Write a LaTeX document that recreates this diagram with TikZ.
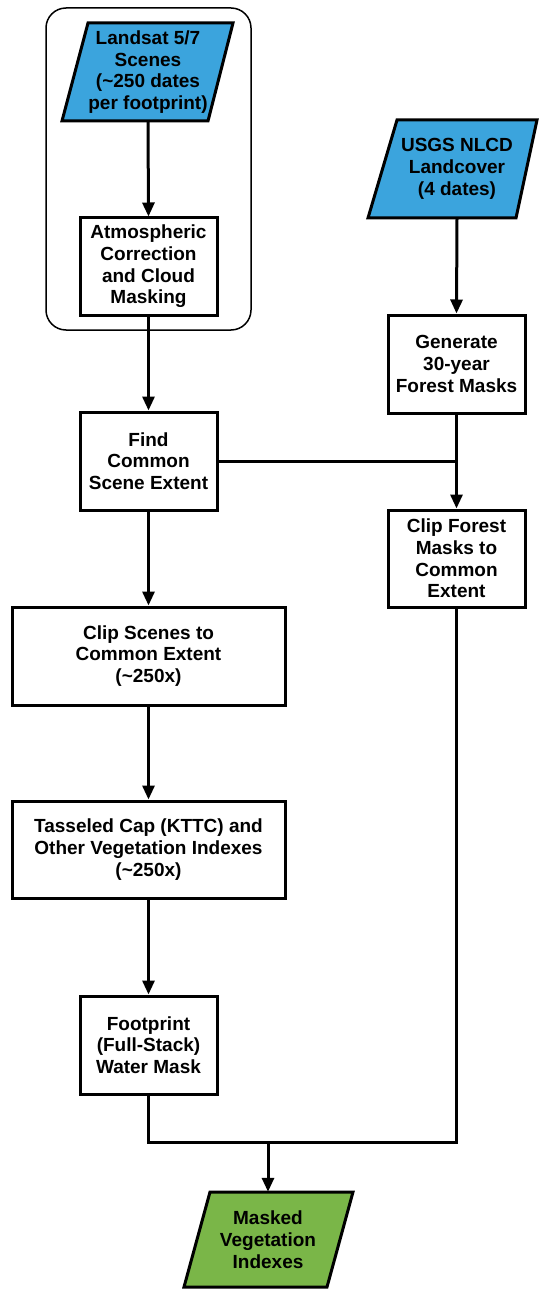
\documentclass[tikz,border=0pt]{standalone}
\usepackage{fontspec}
\setmainfont{Liberation Sans}
\usetikzlibrary{arrows.meta}
\definecolor{inblue}{RGB}{59,164,221}
\definecolor{outgreen}{RGB}{122,182,72}
\tikzset{
  box/.style={draw=black, line width=3pt, fill=white, inner sep=0pt, align=center,
    font=\bfseries\fontsize{19}{21.7}\selectfont},
  ptext/.style={inner sep=0pt, align=center, font=\bfseries\fontsize{19}{21.7}\selectfont},
  para/.style={draw=black, line width=3pt, line join=miter},
  link/.style={line width=3pt, draw=black},
  arr/.style={link, -{Triangle[length=14pt,width=12pt]}},
}
\begin{document}
\begin{tikzpicture}[x=1pt,y=-1pt]
\useasboundingbox (0,0) rectangle (539,1289);
% frame
\draw[line width=1.5pt, rounded corners=20pt] (46,8) rectangle (251,330);
% parallelogram shapes
\filldraw[para, fill=inblue] (88,23) -- (233,23) -- (208,121) -- (62,121) -- cycle;
\filldraw[para, fill=inblue] (397,120) -- (537,120) -- (516,218) -- (368,218) -- cycle;
\filldraw[para, fill=outgreen] (210,1192) -- (353,1192) -- (327,1287) -- (184,1287) -- cycle;
% nodes
\node[ptext, minimum width=120pt, minimum height=98pt] (landsat) at (148,72)
  {Landsat 5/7\\Scenes\\(\textasciitilde250 dates\\per footprint)};
\node[ptext, minimum width=120pt, minimum height=98pt] (usgs) at (457,169)
  {USGS NLCD\\Landcover\\(4 dates)};
\node[ptext, minimum width=120pt, minimum height=95pt] (masked) at (268,1239.5)
  {Masked\\Vegetation\\Indexes};
\node[box, minimum width=137pt, minimum height=97pt] (atm) at (148.5,266.5)
  {Atmospheric\\Correction\\and Cloud\\Masking};
\node[box, minimum width=137pt, minimum height=98pt] (find) at (148.5,461)
  {Find\\Common\\Scene Extent};
\node[box, minimum width=137pt, minimum height=98pt] (gen) at (456.5,364)
  {Generate\\30-year\\Forest Masks};
\node[box, minimum width=137pt, minimum height=97pt] (clipf) at (456.5,558.5)
  {Clip Forest\\Masks to\\Common\\Extent};
\node[box, minimum width=273pt, minimum height=98pt] (clips) at (148.5,656)
  {Clip Scenes to\\Common Extent\\(\textasciitilde250x)};
\node[box, minimum width=273pt, minimum height=97pt] (tass) at (148.5,849.5)
  {Tasseled Cap (KTTC) and\\Other Vegetation Indexes\\(\textasciitilde250x)};
\node[box, minimum width=137pt, minimum height=98pt] (foot) at (148.5,1045)
  {Footprint\\(Full-Stack)\\Water Mask};
\coordinate (join) at (268,1142);
% connectors
\draw[arr] (landsat.south) -- (atm.north);
\draw[arr] (atm.south) -- (find.north);
\draw[arr] (usgs.south) -- (gen.north);
\draw[arr] (gen.south) -- (clipf.north);
\draw[link] (find.east) -- (find.east -| clipf.north);
\draw[arr] (find.south) -- (clips.north);
\draw[arr] (clips.south) -- (tass.north);
\draw[arr] (tass.south) -- (foot.north);
\draw[link] (foot.south) |- (join);
\draw[link] (clipf.south) |- (join);
\draw[arr] (join) -- (masked.north);
\end{tikzpicture}
\end{document}
